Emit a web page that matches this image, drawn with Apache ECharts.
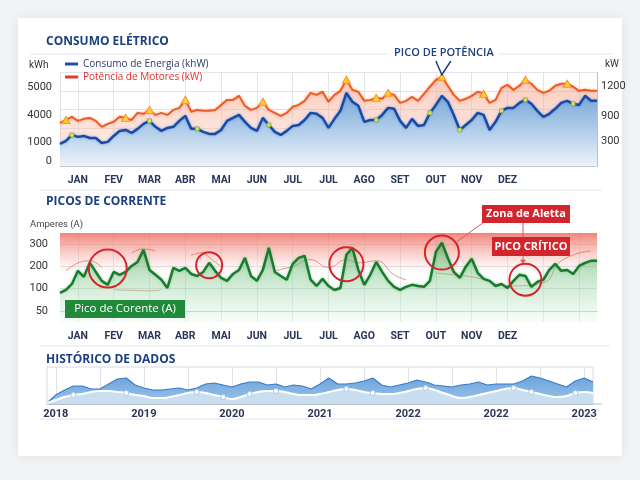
<!DOCTYPE html>
<html>
<head>
<meta charset="utf-8">
<title>Consumo Elétrico</title>
<script src="https://cdn.jsdelivr.net/npm/echarts@6/dist/echarts.min.js"></script>
<style>
  html, body { margin: 0; padding: 0; background: #f2f3f5; }
  #chart { width: 640px; height: 480px; }
</style>
</head>
<body>
<div id="chart"></div>
<script>
// meses do eixo (o JUL aparece duas vezes no original)
var meses = ['JAN', 'FEV', 'MAR', 'ABR', 'MAI', 'JUN', 'JUL', 'JUL', 'AGO', 'SET', 'OUT', 'NOV', 'DEZ', '', ''];
var anos = ['2018', '2019', '2020', '2021', '2022', '2022', '2023'];

// rótulos dos eixos do consumo (escala não linear no original)
var kwhLabels = ['0', '1000', '4000', '5000'];
var kwhValues = [320, 1540, 3260, 5000];
var kwLabels = ['300', '900', '1200'];
var kwValues = [1600, 3200, 5060];

// consumo de energia (linha azul)
var consumoEnergia = [
    1410, 1600, 1980, 1860, 1920, 1790, 1790, 1470, 1540, 1920,
    2240, 2300, 2110, 2370, 2690, 2880, 2500, 2240, 2430, 2500,
    2880, 3200, 2370, 2370, 2180, 2050, 2050, 2300, 2880, 3070,
    3260, 2820, 2430, 2240, 3070, 2620, 2180, 1980, 2240, 2560,
    2620, 2940, 3390, 3330, 3070, 2430, 3010, 3520, 4670, 4100,
    3840, 2820, 2940, 2940, 3260, 3710, 3650, 2880, 2430, 3010,
    2560, 2620, 3390, 3900, 4480, 4100, 3260, 2300, 2620, 2940,
    3390, 3260, 2300, 2820, 3520, 3710, 3710, 4030, 4220, 3970,
    3520, 3140, 3330, 3650, 4030, 4160, 3970, 3900, 4480, 4160,
    4160
];
// potência de motores (linha laranja)
var potenciaMotores = [
    2750, 2940, 3140, 2880, 3010, 3070, 2880, 2500, 2690, 2820,
    3140, 3070, 2940, 3390, 3330, 3580, 3260, 3390, 3260, 3580,
    3710, 4220, 3460, 3580, 3520, 3520, 3580, 3900, 4220, 4220,
    4480, 3840, 3580, 3710, 4100, 3580, 3390, 3200, 3390, 3780,
    3900, 4160, 4670, 4540, 4740, 4100, 4540, 4800, 5500, 4860,
    4740, 4160, 4220, 4350, 4290, 4670, 4540, 4030, 4160, 4420,
    4160, 4610, 5060, 5500, 5700, 5120, 4540, 4160, 4290, 4480,
    4740, 4610, 4030, 4220, 4990, 5180, 4860, 5120, 5500, 5250,
    4860, 4670, 4800, 5120, 5250, 5250, 5060, 4800, 4860, 4800,
    4800
];
var picosPotencia = [1, 11, 15, 21, 34, 48, 53, 55, 64, 71, 78, 85];
var marcasConsumo = [2, 15, 23, 35, 53, 62, 67, 74, 78, 86];
var picoPotenciaIdx = 64;

// picos de corrente (A)
var picoCorrente = [
    81, 94, 121, 180, 153, 216, 175, 135, 117, 175,
    162, 175, 202, 220, 274, 184, 162, 140, 103, 193,
    180, 193, 166, 157, 175, 216, 180, 148, 135, 166,
    184, 238, 157, 135, 184, 283, 175, 157, 140, 211,
    238, 247, 140, 112, 144, 112, 94, 103, 252, 283,
    184, 117, 162, 220, 175, 135, 108, 94, 108, 117,
    112, 108, 135, 265, 306, 238, 175, 148, 198, 234,
    171, 144, 135, 112, 121, 103, 135, 162, 157, 108,
    130, 140, 184, 211, 180, 184, 166, 202, 216, 225,
    225
];
// linha fina vermelha (média), com trechos interrompidos
var mediaCorrente = [
    [1, 180], [3, 215], [5, 225], [7, 195], [8, '-'],
    [9, 95], [12, 92], [15, 90], [17, 95], [18, '-'],
    [12, 260], [14, 278], [16, 270], [17, '-'],
    [22, 250], [24, 262], [25, 240], [27, 200], [28, '-'],
    [36, 180], [39, 200], [42, 230], [45, 195], [48, 230], [50, 216], [53, 225], [56, 162], [58, 140], [59, '-'],
    [63, 170], [66, 162], [70, 148], [75, 112], [81, 126], [84, 225], [89, 270]
];
var picosCirculados = [[8, 190], [25, 205], [48, 210], [64, 262], [78, 140]];

// histórico
var historicoConsumo = [
    1, 9, 14, 18, 18, 15, 15, 20, 25, 26, 19, 16, 14, 14, 15, 16, 14, 16, 20, 21,
    19, 17, 20, 22, 22, 19, 20, 17, 19, 18, 15, 20, 26, 20, 20, 21, 23, 26, 19, 17,
    19, 21, 24, 22, 19, 18, 17, 19, 20, 22, 19, 20, 20, 20, 23, 28, 26, 23, 20, 17,
    23, 26, 22
];
var historicoMedia = [
    1, 4, 7, 9, 10, 12, 13, 13, 12, 11, 9, 8, 6, 6, 7, 9, 11, 12, 11, 9,
    7, 5, 7, 10, 12, 13, 13, 12, 10, 9, 9, 10, 12, 14, 15, 14, 12, 11, 10, 10,
    11, 13, 15, 16, 14, 11, 8, 6, 7, 9, 11, 13, 15, 16, 14, 12, 10, 8, 7, 8,
    11, 12, 11
];
var historicoPontos = [3, 9, 17, 20, 23, 26, 34, 37, 43, 53, 55, 60];

var navy = '#1c3f7f';
var axisText = '#2a3558';
var font = 'Roboto, "Open Sans", sans-serif';

var dias = consumoEnergia.map(function (v, i) { return String(i); });
var pontosHist = historicoConsumo.map(function (v, i) { return String(i); });

function mesInterval(index) { return index % 6 === 3; }
function mesLabel(value, index) { return index % 6 === 3 ? meses[(index - 3) / 6] : ''; }

function gradient(stops) {
    return { type: 'linear', x: 0, y: 0, x2: 0, y2: 1, colorStops: stops };
}

function monthAxis(gridIndex) {
    return {
        type: 'category',
        gridIndex: gridIndex,
        data: dias,
        boundaryGap: false,
        axisLine: { lineStyle: { color: '#c3c8d0' } },
        axisTick: { show: false },
        axisLabel: {
            interval: mesInterval,
            formatter: mesLabel,
            color: axisText,
            fontWeight: 'bold',
            fontSize: 10.5,
            margin: 9
        },
        splitLine: { show: true, interval: mesInterval, lineStyle: { color: '#e2e5ea' } }
    };
}

var option = {
    animation: false,
    backgroundColor: '#f2f3f5',
    textStyle: { fontFamily: font },
    title: [
        { text: 'CONSUMO ELÉTRICO', left: 46, top: 36, padding: 0, textStyle: { color: navy, fontSize: 12, fontWeight: 'bold', fontFamily: '"Open Sans", sans-serif' } },
        { text: 'PICOS DE CORRENTE', left: 46, top: 196, padding: 0, textStyle: { color: navy, fontSize: 12, fontWeight: 'bold', fontFamily: '"Open Sans", sans-serif' } },
        { text: 'HISTÓRICO DE DADOS', left: 46, top: 354, padding: 0, textStyle: { color: navy, fontSize: 12, fontWeight: 'bold', fontFamily: '"Open Sans", sans-serif' } }
    ],
    legend: {
        orient: 'vertical',
        left: 65,
        top: 59,
        padding: 0,
        itemGap: 3,
        itemWidth: 13,
        itemHeight: 3,
        icon: 'rect',
        textStyle: { fontSize: 10, fontFamily: '"Open Sans", sans-serif' },
        data: [
            { name: 'Consumo de Energia (khW)', itemStyle: { color: '#1d4fa8', borderWidth: 0 }, textStyle: { color: '#2b3a67' } },
            { name: 'Potência de Motores (kW)', itemStyle: { color: '#e53a2a', borderWidth: 0 }, textStyle: { color: '#e0302a' } }
        ]
    },
    grid: [
        { left: 60, right: 43, top: 72, height: 94 },
        { left: 60, right: 43, top: 233, height: 89 },
        { left: 47, right: 47, top: 367, height: 37, show: true, borderColor: '#d6dbe2', borderWidth: 1 }
    ],
    xAxis: [
        monthAxis(0),
        monthAxis(1),
        {
            type: 'category',
            gridIndex: 2,
            data: pontosHist,
            boundaryGap: false,
            axisLine: { lineStyle: { color: '#b9c0ca' } },
            axisTick: { show: false },
            axisLabel: {
                interval: function (i) { return i % 10 === 1; },
                formatter: function (v, i) { return i % 10 === 1 ? anos[(i - 1) / 10] : ''; },
                color: axisText,
                fontWeight: 'bold',
                fontSize: 11,
                margin: 5
            },
            splitLine: { show: true, interval: function (i) { return i % 5 === 1; }, lineStyle: { color: 'rgba(200,208,220,0.6)' } }
        }
    ],
    yAxis: [
        {
            type: 'value', gridIndex: 0, min: 0, max: 6000, interval: 1200,
            axisLine: { show: true, lineStyle: { color: '#dde1e6' } },
            axisTick: { show: false },
            axisLabel: {
                customValues: kwhValues,
                formatter: function (v) { return kwhLabels[kwhValues.indexOf(v)]; },
                color: '#333', fontSize: 11, margin: 8
            },
            splitLine: { lineStyle: { color: '#e2e5ea' } }
        },
        {
            type: 'value', gridIndex: 0, position: 'right', min: 0, max: 6000,
            axisLine: { show: true, lineStyle: { color: '#b9c0ca' } },
            axisTick: { show: false },
            axisLabel: {
                customValues: kwValues,
                formatter: function (v) { return kwLabels[kwValues.indexOf(v)]; },
                color: '#333', fontSize: 11, margin: 4
            },
            splitLine: { show: false }
        },
        {
            type: 'value', gridIndex: 1, min: -50, max: 350,
            axisLine: { show: false },
            axisTick: { show: false, customValues: [0, 100, 200, 300] },
            axisLabel: {
                customValues: [0, 100, 200, 300],
                formatter: function (v) { return v === 0 ? '50' : String(v); },
                color: '#333', fontSize: 11, margin: 12
            },
            splitLine: { lineStyle: { color: 'rgba(190,196,205,0.55)' } }
        },
        {
            type: 'value', gridIndex: 2, min: 0, max: 37, show: false
        }
    ],
    series: [
        {
            name: 'Potência de Motores (kW)',
            type: 'line',
            xAxisIndex: 0, yAxisIndex: 0,
            color: '#e8402a',
            symbol: 'none',
            showSymbol: true,
            showAllSymbol: true,
            data: potenciaMotores.map(function (v, i) {
                return picosPotencia.indexOf(i) >= 0
                    ? { value: v, symbol: 'triangle', symbolSize: [8, 7] }
                    : { value: v, symbol: 'none' };
            }),
            itemStyle: { color: '#ffcf3a', borderColor: '#f7931e', borderWidth: 1 },
            lineStyle: { color: '#f05a24', width: 2, shadowColor: 'rgba(245,120,60,0.5)', shadowBlur: 3 },
            areaStyle: {
                color: gradient([
                    { offset: 0, color: 'rgba(246,140,110,0.65)' },
                    { offset: 1, color: 'rgba(252,215,200,0.5)' }
                ])
            },
            z: 2,
            silent: true
        },
        {
            name: 'Consumo de Energia (khW)',
            type: 'line',
            xAxisIndex: 0, yAxisIndex: 0,
            color: '#1d4fa8',
            symbol: 'none',
            showSymbol: true,
            showAllSymbol: true,
            data: consumoEnergia.map(function (v, i) {
                return marcasConsumo.indexOf(i) >= 0
                    ? { value: v, symbol: 'rect', symbolSize: 4 }
                    : { value: v, symbol: 'none' };
            }),
            itemStyle: { color: '#d8e25a', borderColor: '#6a9a3a', borderWidth: 0.6 },
            lineStyle: { color: '#1a4aa3', width: 2.5, shadowColor: 'rgba(70,130,215,0.6)', shadowBlur: 3 },
            areaStyle: {
                opacity: 1,
                color: gradient([
                    { offset: 0, color: 'rgb(116,166,216)' },
                    { offset: 1, color: 'rgb(236,243,250)' }
                ])
            },
            z: 3,
            silent: true
        },
        {
            name: 'Pico de Corente (A)',
            type: 'line',
            xAxisIndex: 1, yAxisIndex: 2,
            symbol: 'none',
            data: picoCorrente,
            lineStyle: { color: '#1b7a2f', width: 2.5, shadowColor: 'rgba(90,200,110,0.6)', shadowBlur: 3 },
            areaStyle: {
                origin: 'start',
                color: gradient([
                    { offset: 0, color: 'rgba(60,170,80,0.8)' },
                    { offset: 1, color: 'rgba(232,246,234,0.5)' }
                ])
            },
            markArea: {
                silent: true,
                itemStyle: {
                    color: gradient([
                        { offset: 0, color: 'rgba(238,104,92,0.82)' },
                        { offset: 0.55, color: 'rgba(246,165,155,0.4)' },
                        { offset: 1, color: 'rgba(255,255,255,0)' }
                    ])
                },
                data: [[{ yAxis: 150 }, { yAxis: 350 }]]
            },
            z: 3,
            silent: true
        },
        {
            name: 'Média',
            type: 'line',
            xAxisIndex: 1, yAxisIndex: 2,
            symbol: 'none',
            smooth: true,
            connectNulls: false,
            data: mediaCorrente,
            lineStyle: { color: 'rgba(215,70,50,0.55)', width: 1 },
            z: 2,
            silent: true
        },
        {
            name: 'Histórico',
            type: 'line',
            xAxisIndex: 2, yAxisIndex: 3,
            symbol: 'none',
            data: historicoConsumo,
            lineStyle: { color: '#3b7cc4', width: 1.2 },
            areaStyle: {
                opacity: 1,
                color: gradient([
                    { offset: 0, color: '#6aa3db' },
                    { offset: 1, color: '#9ec4ea' }
                ])
            },
            silent: true
        },
        {
            name: 'Tendência',
            type: 'line',
            xAxisIndex: 2, yAxisIndex: 3,
            smooth: true,
            symbol: 'none',
            showSymbol: true,
            showAllSymbol: true,
            data: historicoMedia.map(function (v, i) {
                return historicoPontos.indexOf(i) >= 0
                    ? { value: v, symbol: 'circle', symbolSize: 5 }
                    : { value: v, symbol: 'none' };
            }),
            itemStyle: { color: '#ffffff', borderColor: '#a9c8e8', borderWidth: 1 },
            lineStyle: { color: '#ffffff', width: 2 },
            areaStyle: { opacity: 1, color: '#cadef2' },
            silent: true
        }
    ]
};

var chart = echarts.init(document.getElementById('chart'));
chart.setOption(option);

// anotações ancoradas nos dados
function px(seriesIndex, x, y) {
    return chart.convertToPixel({ seriesIndex: seriesIndex }, [x, y]);
}

var graphics = [
    { type: 'rect', z: -10, shape: { x: 18, y: 18, width: 604, height: 438 },
      style: { fill: '#ffffff', shadowBlur: 10, shadowColor: 'rgba(0,0,0,0.08)' } },
    { type: 'line', shape: { x1: 30, y1: 54, x2: 612, y2: 54 }, style: { stroke: '#e6e8ec', lineWidth: 1 } },
    { type: 'line', shape: { x1: 40, y1: 190, x2: 602, y2: 190 }, style: { stroke: '#e3e6ea', lineWidth: 1 } },
    { type: 'line', shape: { x1: 40, y1: 346, x2: 610, y2: 346 }, style: { stroke: '#e3e6ea', lineWidth: 1 } },
    { type: 'line', shape: { x1: 40, y1: 419, x2: 598, y2: 419 }, style: { stroke: '#dfe3e8', lineWidth: 1.2 } },
    { type: 'line', shape: { x1: 593, y1: 404, x2: 602, y2: 404 }, style: { stroke: '#b9c0ca', lineWidth: 1 } },
    { type: 'text', x: 29, y: 60, style: { text: 'kWh', fill: '#333', font: '10px Roboto, sans-serif' } },
    { type: 'text', x: 605, y: 59, style: { text: 'kW', fill: '#333', font: '10px Roboto, sans-serif' } },
    { type: 'text', x: 30, y: 220, style: { text: 'Amperes (A)', fill: '#444', font: '9.5px Roboto, sans-serif' } },
    // legenda verde
    { type: 'rect', z: 20, shape: { x: 65, y: 300, width: 120, height: 18 }, style: { fill: '#1e8a3a' } },
    { type: 'text', z: 21, x: 125, y: 309, style: { text: 'Pico de Corente (A)', fill: '#fff', font: '11.5px "Open Sans", sans-serif', align: 'center', verticalAlign: 'middle' } },
    // caixas vermelhas
    { type: 'rect', z: 20, shape: { x: 482, y: 205, width: 88, height: 18 }, style: { fill: '#d2262e' } },
    { type: 'text', z: 21, x: 526, y: 214, style: { text: 'Zona de Aletta', fill: '#fff', font: 'bold 11px "Open Sans", sans-serif', align: 'center', verticalAlign: 'middle' } },
    { type: 'line', z: 19, shape: { x1: 523, y1: 223, x2: 523, y2: 237 }, style: { stroke: '#d85a5a', lineWidth: 1 } },
    { type: 'rect', z: 20, shape: { x: 492, y: 237, width: 78, height: 19 }, style: { fill: '#d2262e' } },
    { type: 'text', z: 21, x: 531, y: 246.5, style: { text: 'PICO CRÍTICO', fill: '#fff', font: 'bold 11px "Open Sans", sans-serif', align: 'center', verticalAlign: 'middle' } }
];

// pico de potência
var pico = px(0, picoPotenciaIdx, potenciaMotores[picoPotenciaIdx]);
graphics.push({ type: 'polyline', z: 20, shape: { points: [[pico[0] - 6, 61], [pico[0], pico[1] - 2], [pico[0] + 9, 61]] },
    style: { stroke: navy, lineWidth: 1.5, fill: 'none' } });
graphics.push({ type: 'text', z: 20, x: pico[0] + 2, y: 53, style: {
    text: 'PICO DE POTÊNCIA', fill: navy, font: '600 11px "Open Sans", sans-serif',
    align: 'center', verticalAlign: 'middle', backgroundColor: '#fff', padding: [2, 5] } });

// círculos vermelhos nos picos
var raios = [19, 13, 17, 17, 16];
var centros = picosCirculados.map(function (p) { return px(2, p[0], p[1]); });
centros.forEach(function (c, k) {
    graphics.push({ type: 'circle', z: 18, shape: { cx: c[0], cy: c[1], r: raios[k] },
        style: { fill: 'none', stroke: '#d9232b', lineWidth: 2 } });
});
// ligação Zona de Aletta -> círculo 4
var c4 = centros[3], r4 = raios[3];
var dx = 484 - c4[0], dy = 222 - c4[1], d = Math.sqrt(dx * dx + dy * dy);
graphics.push({ type: 'line', z: 19, shape: { x1: 484, y1: 222, x2: c4[0] + dx / d * r4, y2: c4[1] + dy / d * r4 },
    style: { stroke: '#d85a5a', lineWidth: 1 } });
// seta PICO CRÍTICO -> círculo 5
var c5 = centros[4], r5 = raios[4];
graphics.push({ type: 'line', z: 19, shape: { x1: 523, y1: 256, x2: 523, y2: c5[1] - r5 - 1 },
    style: { stroke: '#d85a5a', lineWidth: 1 } });
graphics.push({ type: 'polygon', z: 19, shape: { points: [[520, c5[1] - r5 - 4], [526, c5[1] - r5 - 4], [523, c5[1] - r5]] },
    style: { fill: '#d85a5a' } });

chart.setOption({ graphic: graphics });
</script>
</body>
</html>
